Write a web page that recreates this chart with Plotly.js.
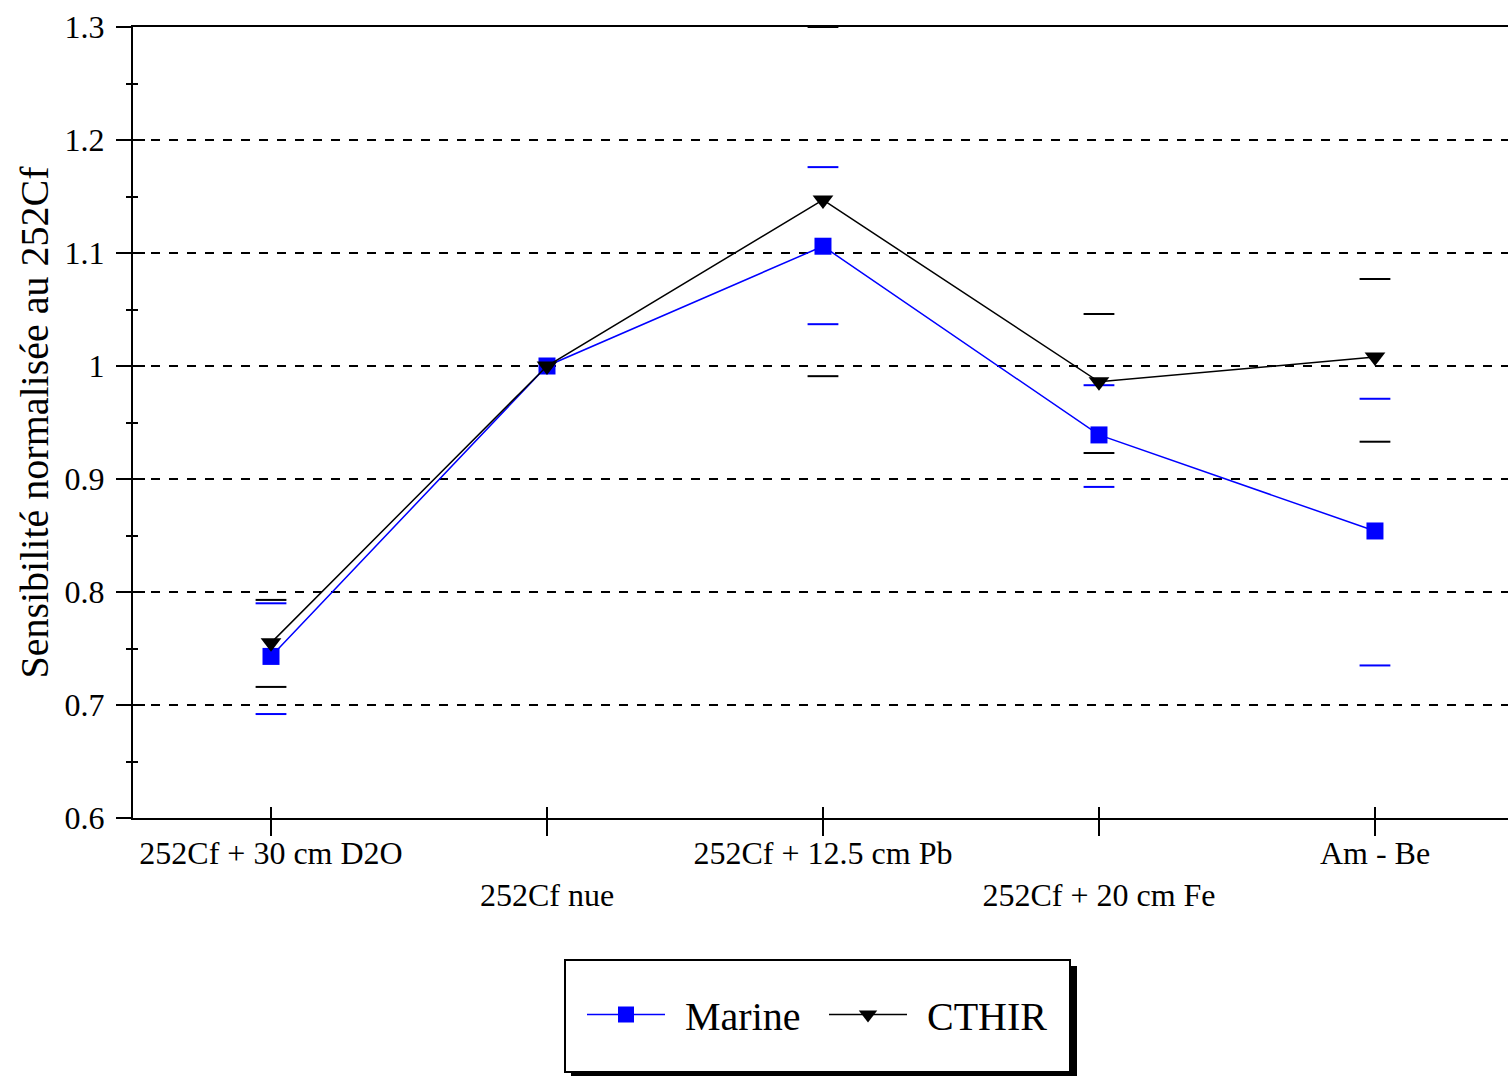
<!DOCTYPE html>
<html>
<head>
<meta charset="utf-8">
<script src="https://cdn.plot.ly/plotly-3.0.1.min.js"></script>
<style>
  html, body { margin: 0; padding: 0; background: #fff; }
  #chart { width: 1508px; height: 1076px; }
</style>
</head>
<body>
<div id="chart"></div>
<script>
// ---- data ----
const categories = ['252Cf + 30 cm D2O', '252Cf nue', '252Cf + 12.5 cm Pb', '252Cf + 20 cm Fe', 'Am - Be'];
const marine     = [0.743, 1.000, 1.106, 0.939, 0.854];
const marineHigh = [0.790, null, 1.176, 0.983, 0.971];
const marineLow  = [0.692, null, 1.037, 0.893, 0.735];
const cthir      = [0.755, 1.000, 1.147, 0.986, 1.008];
const cthirHigh  = [0.793, null, 1.300, 1.046, 1.077];
const cthirLow   = [0.716, null, 0.991, 0.923, 0.933];
const seriesNames = ['Marine', 'CTHIR'];
const yTitle = 'Sensibilité normalisée au 252Cf';

// ---- layout geometry (pixels) ----
const W = 1508, H = 1076;
const L = 133, R = 0, T = 27, B = 258;
const plotW = W - L - R, plotH = H - T - B;
const px = x => (x - L) / plotW;
const py = y => (H - B - y) / plotH;

const FONT = '"Liberation Serif", "Times New Roman", serif';
const BLUE = '#0000FF';
const BLACK = '#000000';

const tickText = categories.map((c, i) => (i % 2 === 1 ? '<br>' + c : c));

function capTrace(vals, color) {
  return {
    x: categories, y: vals, type: 'scatter', mode: 'markers',
    marker: { symbol: 'line-ew-open', size: 22, color: color, line: { width: 2, color: color } },
    showlegend: false, hoverinfo: 'skip'
  };
}

const traces = [
  capTrace(marineHigh, BLUE),
  capTrace(marineLow, BLUE),
  capTrace(cthirHigh, BLACK),
  capTrace(cthirLow, BLACK),
  {
    x: categories, y: marine, name: seriesNames[0], type: 'scatter', mode: 'lines+markers',
    line: { color: BLUE, width: 1.5 },
    marker: { symbol: 'square', size: 17, color: BLUE }
  },
  {
    x: categories, y: cthir, name: seriesNames[1], type: 'scatter', mode: 'lines+markers',
    line: { color: BLACK, width: 1.5 },
    marker: { symbol: 'triangle-down', size: 18, color: BLACK }
  },
  {
    x: [categories[0]], y: [1], xaxis: 'x2', yaxis: 'y2', type: 'scatter', mode: 'markers',
    marker: { opacity: 0 }, showlegend: false, hoverinfo: 'skip'
  }
];

const xRange = [-0.5, 4.482];
const yRange = [0.6, 1.3];

const layout = {
  width: W, height: H,
  margin: { l: L, r: R, t: T, b: B, pad: 0 },
  paper_bgcolor: '#fff', plot_bgcolor: '#fff',
  font: { family: FONT, color: BLACK, size: 32 },
  showlegend: true,
  xaxis: {
    type: 'category', categoryorder: 'array', categoryarray: categories,
    range: xRange, fixedrange: true,
    showline: true, linecolor: BLACK, linewidth: 2, mirror: true,
    showgrid: false, zeroline: false,
    ticks: 'outside', ticklen: 16, tickwidth: 2, tickcolor: BLACK,
    tickmode: 'array', tickvals: categories, ticktext: tickText,
    tickfont: { family: FONT, size: 32, color: BLACK },
    ticklabelstandoff: -10,
    tickangle: 0
  },
  xaxis2: {
    type: 'category', categoryorder: 'array', categoryarray: categories,
    overlaying: 'x', anchor: 'y', side: 'bottom', range: xRange,
    showline: false, showgrid: false, zeroline: false,
    ticks: 'inside', ticklen: 11, tickwidth: 2, tickcolor: BLACK,
    tickmode: 'array', tickvals: categories, showticklabels: false
  },
  yaxis: {
    range: yRange, fixedrange: true,
    showline: true, linecolor: BLACK, linewidth: 2,
    showgrid: true, gridcolor: BLACK, gridwidth: 2, griddash: '9px,9px',
    zeroline: false,
    tickmode: 'linear', tick0: 0.6, dtick: 0.1,
    ticks: 'outside', ticklen: 15, tickwidth: 2, tickcolor: BLACK,
    minor: { ticks: 'outside', ticklen: 5, tickwidth: 2, tickcolor: BLACK, dtick: 0.05, showgrid: false },
    tickfont: { family: FONT, size: 32, color: BLACK },
    ticklabelstandoff: 5,
    title: { text: yTitle, font: { family: FONT, size: 40, color: BLACK }, standoff: 4 },
    automargin: false
  },
  yaxis2: {
    range: yRange, overlaying: 'y', anchor: 'x', side: 'left',
    showline: false, showgrid: false, zeroline: false,
    tickmode: 'linear', tick0: 0.6, dtick: 0.1,
    ticks: 'inside', ticklen: 12, tickwidth: 2, tickcolor: BLACK,
    minor: { ticks: 'inside', ticklen: 5, tickwidth: 2, tickcolor: BLACK, dtick: 0.05, showgrid: false },
    showticklabels: false
  },
  legend: {
    orientation: 'h', x: px(567), xanchor: 'left', y: py(982), yanchor: 'top',
    bgcolor: 'rgba(0,0,0,0)', borderwidth: 0,
    font: { family: FONT, size: 40, color: BLACK },
    itemwidth: 108, entrywidth: 119, entrywidthmode: 'pixels'
  },
  shapes: [
    { type: 'rect', xref: 'paper', yref: 'paper', layer: 'above',
      x0: px(571), x1: px(1077), y0: py(966), y1: py(1079),
      fillcolor: BLACK, line: { width: 0 } },
    { type: 'rect', xref: 'paper', yref: 'paper', layer: 'above',
      x0: px(565), x1: px(1070), y0: py(960), y1: py(1072),
      fillcolor: '#fff', line: { width: 2, color: BLACK } }
  ]
};

Plotly.newPlot('chart', traces, layout, { staticPlot: true, displayModeBar: false }).then(gd => {
  gd.querySelectorAll('.legend .traces').forEach(g => {
    const pt = g.querySelector('.legendpoints path');
    const ln = g.querySelector('.legendlines path');
    if (!pt || !ln) return;
    const m = /translate\(\s*([-\d.]+)/.exec(pt.getAttribute('transform') || '');
    const mx = m ? parseFloat(m[1]) : 20;
    ln.setAttribute('d', 'M' + (mx - 39) + ',0h78');
  });
});
</script>
</body>
</html>
